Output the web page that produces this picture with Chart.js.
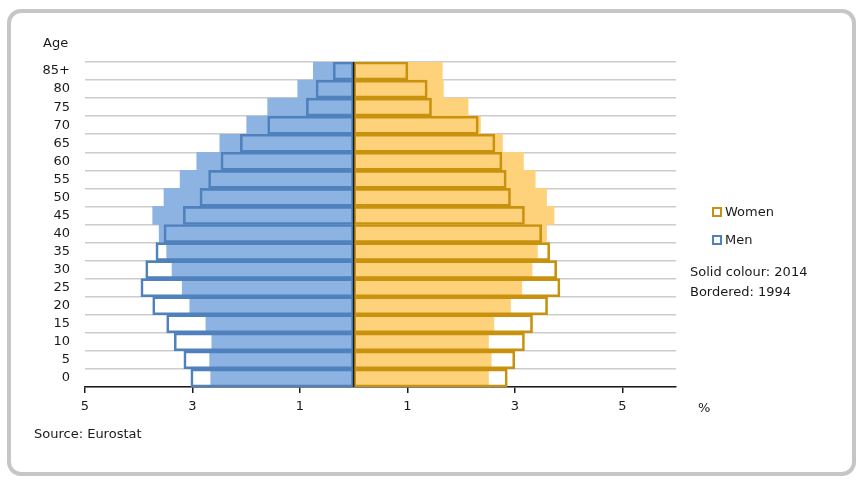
<!DOCTYPE html>
<html>
<head>
<meta charset="utf-8">
<script src="https://cdn.jsdelivr.net/npm/chart.js@4/dist/chart.umd.min.js"></script>
<style>
  html, body { margin: 0; padding: 0; background: #fff; }
  body { width: 868px; height: 488px; position: relative; overflow: hidden; font-family: "DejaVu Sans", Verdana, sans-serif; color: #1a1a1a; }
  #frame { position: absolute; left: 7px; top: 9px; width: 841px; height: 459px; border: 4px solid #c6c6c6; border-radius: 14px; }
  #wrap { position: absolute; left: 0; top: 0; width: 868px; height: 488px; }
  .txt { position: absolute; font-size: 13px; line-height: 16px; white-space: nowrap; }
  .box { position: absolute; width: 6px; height: 6px; border: 2px solid; }
</style>
</head>
<body>
<div id="frame"></div>
<div id="wrap"><canvas id="c" width="868" height="488"></canvas></div>
<div class="txt" style="left:43px; top:35px;">Age</div>
<div class="txt" style="left:698px; top:400px;">%</div>
<div class="txt" style="left:34px; top:426px;">Source: Eurostat</div>
<div class="box" style="left:712px; top:207px; border-color:#c8920e;"></div>
<div class="txt" style="left:725px; top:204px;">Women</div>
<div class="box" style="left:712px; top:235px; border-color:#4f81bd;"></div>
<div class="txt" style="left:725px; top:232px;">Men</div>
<div class="txt" style="left:690px; top:264px;">Solid colour: 2014</div>
<div class="txt" style="left:690px; top:284px;">Bordered: 1994</div>
<script>
const ageGroups = ['0','5','10','15','20','25','30','35','40','45','50','55','60','65','70','75','80','85+'];
const men2014   = [2.66, 2.68, 2.64, 2.75, 3.05, 3.19, 3.38, 3.48, 3.62, 3.74, 3.53, 3.23, 2.92, 2.49, 1.99, 1.60, 1.04, 0.75];
const men1994   = [3.03, 3.16, 3.34, 3.48, 3.74, 3.96, 3.87, 3.68, 3.53, 3.17, 2.86, 2.70, 2.47, 2.11, 1.60, 0.88, 0.70, 0.38];
const women2014 = [2.51, 2.56, 2.51, 2.61, 2.92, 3.13, 3.32, 3.42, 3.59, 3.73, 3.59, 3.38, 3.16, 2.77, 2.36, 2.13, 1.67, 1.65];
const women1994 = [2.86, 3.00, 3.18, 3.33, 3.61, 3.84, 3.78, 3.65, 3.50, 3.18, 2.92, 2.84, 2.76, 2.63, 2.32, 1.45, 1.37, 1.01];
const xTicks = [-5, -3, -1, 1, 3, 5];

const neg = a => a.map(v => -v);

const zeroLine = {
  id: 'zeroLine',
  afterDatasetsDraw(chart) {
    const x = chart.scales.x.getPixelForValue(0);
    const a = chart.chartArea;
    const ctx = chart.ctx;
    ctx.save();
    ctx.strokeStyle = '#1a1a1a';
    ctx.lineWidth = 1.5;
    ctx.beginPath();
    ctx.moveTo(x, a.top);
    ctx.lineTo(x, a.bottom);
    ctx.stroke();
    ctx.restore();
  }
};

new Chart(document.getElementById('c'), {
  type: 'bar',
  data: {
    labels: ageGroups,
    datasets: [
      { label: 'Men 1994', data: neg(men1994), backgroundColor: 'rgba(0,0,0,0)', borderColor: '#4f81bd', borderWidth: 2, borderSkipped: false, grouped: false, order: 0 },
      { label: 'Women 1994', data: women1994, backgroundColor: 'rgba(0,0,0,0)', borderColor: '#c8920e', borderWidth: 2, borderSkipped: false, grouped: false, order: 1 },
      { label: 'Men 2014', data: neg(men2014), backgroundColor: '#8db3e2', borderWidth: 0, grouped: false, order: 2 },
      { label: 'Women 2014', data: women2014, backgroundColor: '#fdd27a', borderWidth: 0, grouped: false, order: 3 }
    ]
  },
  options: {
    indexAxis: 'y',
    responsive: false,
    animation: false,
    barPercentage: 1,
    categoryPercentage: 1,
    layout: { padding: { top: 62, right: 192, left: 0, bottom: 0 } },
    plugins: { legend: { display: false }, tooltip: { enabled: false } },
    scales: {
      x: {
        min: -5, max: 6,
        afterBuildTicks(scale) { scale.ticks = xTicks.map(v => ({ value: v })); },
        afterFit(scale) { scale.height = 101; },
        ticks: {
          callback: v => String(Math.abs(v)),
          color: '#1a1a1a',
          font: { family: 'DejaVu Sans', size: 13 },
          padding: 6,
          maxRotation: 0,
          autoSkip: false
        },
        grid: { drawOnChartArea: false, drawTicks: true, tickLength: 6, color: '#1a1a1a', lineWidth: 1.5 },
        border: { display: true, color: '#1a1a1a', width: 1.5 }
      },
      y: {
        reverse: true,
        afterFit(scale) { scale.width = 85; },
        ticks: {
          color: '#1a1a1a',
          font: { family: 'DejaVu Sans', size: 13 },
          padding: 15,
          autoSkip: false
        },
        grid: { offset: true, drawTicks: false, color: '#cccccc', lineWidth: 1.5 },
        border: { display: false }
      }
    }
  },
  plugins: [zeroLine]
});
</script>
</body>
</html>
